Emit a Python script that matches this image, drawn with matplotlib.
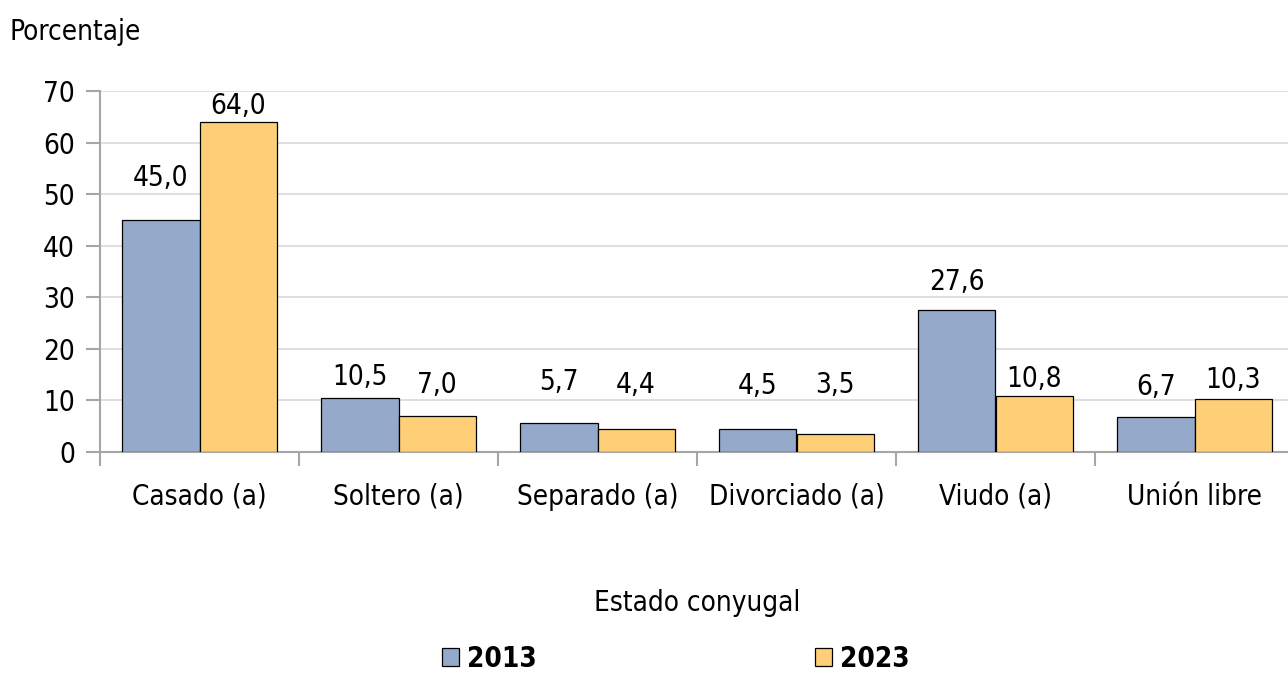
import matplotlib.pyplot as plt
import numpy as np

plt.rcParams['font.family'] = ['DejaVu Sans']
plt.rcParams['font.stretch'] = 'condensed'

categories = ["Casado (a)", "Soltero (a)", "Separado (a)", "Divorciado (a)", "Viudo (a)", "Unión libre"]
years = ["2013", "2023"]
values_2013 = [45.0, 10.5, 5.7, 4.5, 27.6, 6.7]
values_2023 = [64.0, 7.0, 4.4, 3.5, 10.8, 10.3]
yticks = [0, 10, 20, 30, 40, 50, 60, 70]

# label heights (centre of text, data units) as placed in the original
label_y_2013 = [53.1, 14.5, 13.6, 12.8, 33.0, 12.6]
label_y_2023 = [67.1, 13.0, 13.0, 12.9, 14.2, 14.0]

c2013 = '#95a9cb'
c2023 = '#ffcf77'

fig = plt.figure(figsize=(12.88, 6.75), dpi=100)
ax = fig.add_axes([100 / 1288, 223 / 675, 1194 / 1288, 361 / 675])

x = np.arange(len(categories))
w = 0.387
ax.bar(x - w / 2, values_2013, w, color=c2013, edgecolor='black', linewidth=0.9, label=years[0], zorder=3)
ax.bar(x + w / 2, values_2023, w, color=c2023, edgecolor='black', linewidth=0.9, label=years[1], zorder=3)

for i in range(len(categories)):
    ax.text(x[i] - w / 2, label_y_2013[i], f"{values_2013[i]:.1f}".replace('.', ','),
            ha='center', va='center', fontsize=20)
    ax.text(x[i] + w / 2, label_y_2023[i], f"{values_2023[i]:.1f}".replace('.', ','),
            ha='center', va='center', fontsize=20)

ax.set_xlim(-0.5, len(categories) - 0.5)
ax.set_ylim(0, 70)
ax.set_yticks(yticks)
ax.set_xticks(x)
ax.set_xticklabels(categories)
ax.set_xticks(np.arange(-0.5, len(categories)), minor=True)
ax.tick_params(axis='x', which='major', length=0, pad=22, labelsize=20)
ax.tick_params(axis='x', which='minor', length=10, width=1.5, color='#a6a6a6', direction='out')
ax.tick_params(axis='y', length=10, width=1.5, color='#a6a6a6', direction='out', pad=8, labelsize=20)

ax.grid(axis='y', color='#d9d9d9', linewidth=1.2, zorder=0)
for s in ['top', 'right']:
    ax.spines[s].set_visible(False)
for s in ['left', 'bottom']:
    ax.spines[s].set_color('#a6a6a6')
    ax.spines[s].set_linewidth(1.5)

fig.text(10 / 1288, 1 - 32 / 675, "Porcentaje", fontsize=20, ha='left', va='center')
fig.text(697 / 1288, 1 - 603 / 675, "Estado conyugal", fontsize=20, ha='center', va='center')

leg = fig.legend(loc='center', bbox_to_anchor=(676 / 1288, 1 - 659 / 675), ncol=2, frameon=False,
                 prop={'size': 20, 'weight': 'bold'}, handlelength=0.6, handleheight=0.6,
                 handletextpad=0.3, columnspacing=10.0, borderpad=0.2)

fig.savefig("out.png", dpi=100)
